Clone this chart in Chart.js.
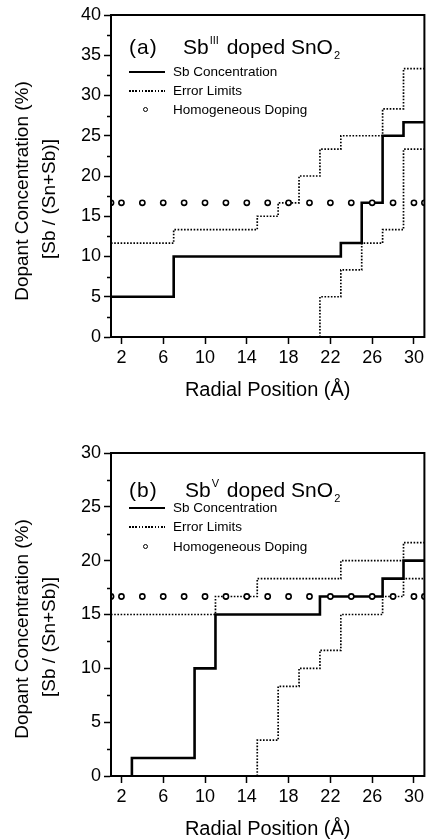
<!DOCTYPE html>
<html>
<head>
<meta charset="utf-8">
<script src="https://cdn.jsdelivr.net/npm/chart.js@4.4.0/dist/chart.umd.min.js"></script>
<style>
html,body{margin:0;padding:0;background:#fff;}
#page{position:relative;width:430px;height:839px;overflow:hidden;font-family:"Liberation Sans",Arial,sans-serif;color:#000;}
canvas{position:absolute;left:0;}
.txt{position:absolute;white-space:nowrap;line-height:22px;height:22px;}
.big{font-size:21px;}
.paren{letter-spacing:1px;}
.sup{font-size:11px;position:relative;top:-10px;margin-left:1px;margin-right:2px;}
.sub{font-size:11px;position:relative;top:5px;margin-left:1px;}
.leg{position:absolute;white-space:nowrap;font-size:13.5px;line-height:14px;height:14px;}
.ytitle{position:absolute;white-space:nowrap;font-size:19px;line-height:19px;transform:translate(-50%,-50%) rotate(-90deg);}
.solid{position:absolute;height:0;width:36px;border-top:2.5px solid #000;}
.dotted{position:absolute;height:2px;width:36px;background:repeating-linear-gradient(to right,#000 0,#000 1.6px,transparent 1.6px,transparent 3.2px);}
.circ{position:absolute;width:3px;height:3px;border:1.5px solid #000;border-radius:50%;background:#fff;}
</style>
</head>
<body>
<div id="page">
  <canvas id="chartA" width="430" height="420" style="top:0;width:430px;height:420px"></canvas>
  <canvas id="chartB" width="430" height="419" style="top:420px;width:430px;height:419px"></canvas>

  <!-- panel (a) annotations -->
  <div class="txt big paren" style="left:129px;top:36px;">(a)</div>
  <div class="txt big" style="left:183px;top:36px;">Sb<span class="sup">III</span> doped SnO<span class="sub">2</span></div>
  <div class="solid" style="left:129px;top:71px;"></div>
  <div class="leg" style="left:173px;top:65px;">Sb Concentration</div>
  <div class="dotted" style="left:129px;top:90px;"></div>
  <div class="leg" style="left:173px;top:84px;">Error Limits</div>
  <div class="circ" style="left:143px;top:107px;"></div>
  <div class="leg" style="left:173px;top:103px;">Homogeneous Doping</div>
  <div class="ytitle" style="left:21px;top:191px;">Dopant Concentration (%)</div>
  <div class="ytitle" style="left:48px;top:199px;">[Sb / (Sn+Sb)]</div>

  <!-- panel (b) annotations -->
  <div class="txt big paren" style="left:129px;top:479px;">(b)</div>
  <div class="txt big" style="left:185px;top:479px;">Sb<span class="sup">V</span> doped SnO<span class="sub">2</span></div>
  <div class="solid" style="left:129px;top:507px;"></div>
  <div class="leg" style="left:173px;top:501px;">Sb Concentration</div>
  <div class="dotted" style="left:129px;top:526px;"></div>
  <div class="leg" style="left:173px;top:520px;">Error Limits</div>
  <div class="circ" style="left:143px;top:544px;"></div>
  <div class="leg" style="left:173px;top:540px;">Homogeneous Doping</div>
  <div class="ytitle" style="left:21px;top:629px;">Dopant Concentration (%)</div>
  <div class="ytitle" style="left:48px;top:637px;">[Sb / (Sn+Sb)]</div>
</div>

<script>
// ---------- data ----------
const xTickValues = [2, 6, 10, 14, 18, 22, 26, 30];
const xMin = 1, xMax = 31;

// Panel (a): Sb(III) doped SnO2  (step levels start at each x)
const concA_x  = [1, 7, 23, 25, 27, 29, 31];
const concA_y  = [5, 10, 11.67, 16.67, 25, 26.67, 26.67];
const upperA_x = [1, 7, 15, 17, 19, 21, 23, 27, 29, 31];
const upperA_y = [11.67, 13.33, 15, 16.67, 20, 23.33, 25, 28.33, 33.33, 33.33];
const lowerA_x = [21, 21, 23, 25, 27, 29, 31];
const lowerA_y = [0, 5, 8.33, 11.67, 13.33, 23.33, 23.33];
const homA_x   = [1, 2, 4, 6, 8, 10, 12, 14, 16, 18, 20, 22, 24, 26, 28, 30, 31];
const homA_y   = [16.67, 16.67, 16.67, 16.67, 16.67, 16.67, 16.67, 16.67, 16.67, 16.67, 16.67, 16.67, 16.67, 16.67, 16.67, 16.67, 16.67];
const yMaxA = 40;

// Panel (b): Sb(V) doped SnO2
const concB_x  = [3, 3, 9, 11, 21, 27, 29, 31];
const concB_y  = [0, 1.67, 10, 15, 16.67, 18.33, 20, 20];
const upperB_x = [1, 11, 15, 23, 29, 31];
const upperB_y = [15, 16.67, 18.33, 20, 21.67, 21.67];
const lowerB_x = [15, 15, 17, 19, 21, 23, 27, 29, 31];
const lowerB_y = [0, 3.33, 8.33, 10, 11.67, 15, 16.67, 18.33, 18.33];
const homB_x   = [1, 2, 4, 6, 8, 10, 12, 14, 16, 18, 20, 22, 24, 26, 28, 30, 31];
const homB_y   = [16.67, 16.67, 16.67, 16.67, 16.67, 16.67, 16.67, 16.67, 16.67, 16.67, 16.67, 16.67, 16.67, 16.67, 16.67, 16.67, 16.67];
const yMaxB = 30;

// ---------- helpers ----------
const FAMILY = "'Liberation Sans', Arial, Helvetica, sans-serif";
const pts = (xs, ys) => xs.map((x, i) => ({ x: x, y: ys[i] }));

const framePlugin = {
  id: 'frame',
  afterDraw(chart) {
    const { ctx, chartArea: a, scales } = chart;
    const y = scales.y;
    ctx.save();
    ctx.strokeStyle = '#000';
    // minor ticks on the y axis
    ctx.lineWidth = 1.5;
    ctx.beginPath();
    for (let v = 2.5; v < y.max; v += 5) {
      const py = Math.round(y.getPixelForValue(v)) + 0.5;
      ctx.moveTo(a.left - 4, py);
      ctx.lineTo(a.left, py);
    }
    ctx.stroke();
    // box frame
    ctx.lineWidth = 2;
    ctx.strokeRect(a.left, a.top, a.right - a.left, a.bottom - a.top);
    ctx.restore();
  }
};

function makeChart(id, d, yMax, padTop, xHeight, titlePad) {
  const tickFont = { family: FAMILY, size: 18 };
  const gridOpts = { display: true, drawOnChartArea: false, drawTicks: true, tickLength: 7, tickWidth: 1.5, tickColor: '#000' };
  const dotted = { stepped: 'before', borderColor: '#000', borderWidth: 1.7, borderDash: [1.6, 1.6], pointRadius: 0, fill: false, order: 2, clip: 0 };
  return new Chart(document.getElementById(id), {
    type: 'line',
    data: {
      datasets: [
        { label: 'Homogeneous Doping', data: pts(d.homX, d.homY), showLine: false,
          pointRadius: 2.6, pointBorderWidth: 1.6, pointBackgroundColor: '#fff', pointBorderColor: '#000',
          order: 0, clip: 0 },
        { label: 'Sb Concentration', data: pts(d.concX, d.concY), stepped: 'before',
          borderColor: '#000', borderWidth: 2.6, pointRadius: 0, fill: false, order: 1, clip: 0 },
        Object.assign({ label: 'Error Limits', data: pts(d.upX, d.upY) }, dotted),
        Object.assign({ label: 'Error Limits (lower)', data: pts(d.loX, d.loY) }, dotted)
      ]
    },
    options: {
      responsive: false,
      animation: false,
      devicePixelRatio: 1,
      layout: { padding: { top: padTop, right: 2, left: 0, bottom: 0 } },
      plugins: { legend: { display: false }, tooltip: { enabled: false }, title: { display: false } },
      scales: {
        x: {
          type: 'linear', min: xMin, max: xMax,
          afterBuildTicks: s => { s.ticks = xTickValues.map(v => ({ value: v })); },
          afterFit: s => { s.height = xHeight; },
          ticks: { font: tickFont, color: '#000', padding: 3, maxRotation: 0, autoSkip: false, callback: v => String(v) },
          grid: gridOpts,
          border: { display: true, color: '#000', width: 2 },
          title: { display: true, text: 'Radial Position (Å)', color: '#000',
                   font: { family: FAMILY, size: 20, lineHeight: 1 }, padding: { top: 0, bottom: titlePad } }
        },
        y: {
          type: 'linear', min: 0, max: yMax,
          afterFit: s => { s.width = 111; },
          ticks: { stepSize: 5, font: tickFont, color: '#000', padding: 3 },
          grid: gridOpts,
          border: { display: true, color: '#000', width: 2 }
        }
      }
    },
    plugins: [framePlugin]
  });
}

makeChart('chartA', { concX: concA_x, concY: concA_y, upX: upperA_x, upY: upperA_y, loX: lowerA_x, loY: lowerA_y, homX: homA_x, homY: homA_y },
          yMaxA, 15, 83, 20);
makeChart('chartB', { concX: concB_x, concY: concB_y, upX: upperB_x, upY: upperB_y, loX: lowerB_x, loY: lowerB_y, homX: homB_x, homY: homB_y },
          yMaxB, 33, 63, 0);
</script>
</body>
</html>
